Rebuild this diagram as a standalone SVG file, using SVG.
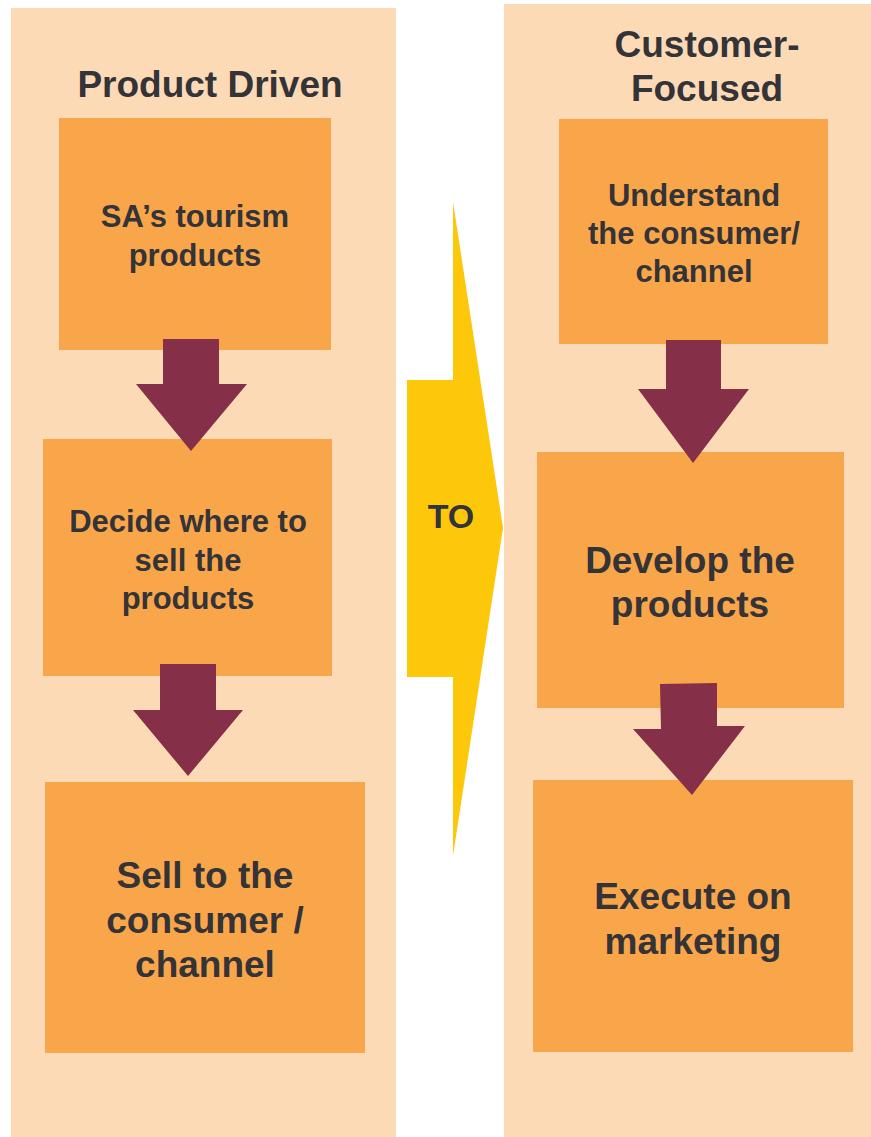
<svg xmlns="http://www.w3.org/2000/svg" width="871" height="1137" viewBox="0 0 871 1137">
<style>
.panel{fill:#FDDAB6}
.box{fill:#F9A64A}
.arr{fill:#852F48}
.t{font-family:"Liberation Sans",Arial,sans-serif;font-weight:bold;fill:#333338;text-anchor:middle}
.s31{font-size:31px}
.s37{font-size:37px}
</style>
<rect width="871" height="1137" fill="#ffffff"/>
<g id="panel-left"><rect class="panel" x="11" y="8" width="385" height="1129"/>
<text class="t s37" x="210" y="97">Product Driven</text></g>
<g id="panel-right"><rect class="panel" x="504" y="4" width="367" height="1133"/>
<text class="t s37" x="707" y="57">Customer-</text>
<text class="t s37" x="707" y="101">Focused</text></g>
<g id="to-arrow"><polygon points="407,380 453,380 453,202 503,528 453,856 453,677 407,677" fill="#FDC70A"/>
<text class="t" style="font-size:34px" x="451" y="528">TO</text></g>
<g id="node-sa-products"><rect class="box" x="59" y="118" width="272" height="232"/>
<text class="t s31" x="195" y="227">SA’s tourism</text>
<text class="t s31" x="195" y="266">products</text></g>
<g id="node-decide"><rect class="box" x="43" y="439" width="289" height="237"/>
<text class="t s31" x="188" y="532">Decide where to</text>
<text class="t s31" x="188" y="571">sell the</text>
<text class="t s31" x="188" y="609">products</text></g>
<g id="node-sell"><rect class="box" x="45" y="782" width="320" height="271"/>
<text class="t s37" x="205" y="888">Sell to the</text>
<text class="t s37" x="205" y="933">consumer /</text>
<text class="t s37" x="205" y="977">channel</text></g>
<g id="node-understand"><rect class="box" x="559" y="119" width="269" height="225"/>
<text class="t s31" x="694" y="206">Understand</text>
<text class="t s31" x="694" y="244">the consumer/</text>
<text class="t s31" x="694" y="282">channel</text></g>
<g id="node-develop"><rect class="box" x="537" y="452" width="307" height="256"/>
<text class="t s37" x="690" y="573">Develop the</text>
<text class="t s37" x="690" y="617">products</text></g>
<g id="node-execute"><rect class="box" x="533" y="780" width="320" height="272"/>
<text class="t s37" x="693" y="909">Execute on</text>
<text class="t s37" x="693" y="954">marketing</text></g>
<g id="connectors">
<polygon class="arr" points="163,339 219,339 219,384 247,384 191,451 136,384 163,384"/>
<polygon class="arr" points="160,664 216,664 216,710 243,710 188,776 133,710 160,710"/>
<polygon class="arr" points="666,340 721,340 721,389 749,389 693,463 638,389 666,389"/>
<polygon class="arr" points="660,684 717,683 717,726 745,726 692,795 633,729 661,729"/>
</g>
</svg>
